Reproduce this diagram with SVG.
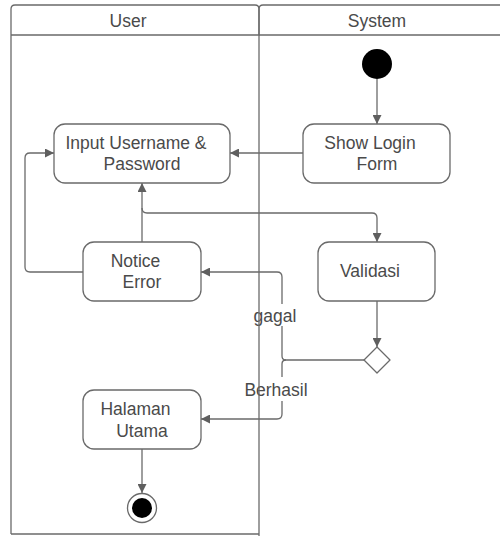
<svg xmlns="http://www.w3.org/2000/svg" width="500" height="536" viewBox="0 0 500 536">
  <defs>
    <marker id="arrow" viewBox="0 0 10 10" refX="10" refY="5" markerWidth="9" markerHeight="9" markerUnits="userSpaceOnUse" orient="auto">
      <path d="M0,0 L10,5 L0,10 Z" fill="#5f5f5f"/>
    </marker>
    <style>
      .lane { fill: none; stroke: #6a6a6a; stroke-width: 1.3; }
      .node { fill: #ffffff; stroke: #6a6a6a; stroke-width: 1.3; }
      .edge { fill: none; stroke: #6a6a6a; stroke-width: 1.3; marker-end: url(#arrow); }
      .line { fill: none; stroke: #6a6a6a; stroke-width: 1.3; }
      .lbl { font-family: "Liberation Sans", Arial, sans-serif; font-size: 17.5px; fill: #4a4a4a; text-anchor: middle; }
      .bg { fill: #ffffff; }
    </style>
  </defs>
  <rect width="500" height="536" fill="#ffffff"/>

  <!-- swimlane frame -->
  <g id="lanes">
    <path class="lane" d="M11,534 V9 Q11,5 15,5 H255 Q259,5 259,9 V35 H11"/>
    <path class="lane" d="M259,35 V9 Q259,5 263,5 H504 M259,35 H504"/>
    <text class="lbl" x="128" y="27">User</text>
    <text class="lbl" x="377" y="27">System</text>
    <path class="lane" d="M11,534 H259"/>
  </g>

  <!-- connectors -->
  <g id="connectors">
    <path class="edge" d="M377,79 V124"/>
    <path class="edge" d="M303,153 H230"/>
    <path class="edge" d="M142,242 V183"/>
    <path class="edge" d="M142,208 Q142,213 147,213 H372 Q377,213 377,218 V242"/>
    <path class="edge" d="M83,272 H30 Q25,272 25,267 V158 Q25,153 30,153 H54"/>
    <path class="edge" d="M377,301 V347"/>
    <path class="line" d="M364,360 H286 Q282,360 282,356 V277 Q282,272 277,272 H240"/>
    <path class="edge" d="M240,272 H201"/>
    <path class="line" d="M286,360 Q282,360 282,364 V414 Q282,419 277,419 H240"/>
    <path class="edge" d="M240,419 H201"/>
    <path class="edge" d="M142,449 V493"/>
    <rect class="bg" x="254" y="304" width="44" height="22"/>
    <text class="lbl" x="275" y="322">gagal</text>
    <rect class="bg" x="243" y="377" width="66" height="24"/>
    <text class="lbl" x="276" y="396">Berhasil</text>
  </g>

  <!-- lane divider drawn above the labels -->
  <path class="lane" d="M259,35 V536"/>

  <g id="start">
    <circle cx="377" cy="64" r="15" fill="#000000"/>
  </g>

  <g id="input-credentials">
    <rect class="node" x="54" y="124" width="176" height="59" rx="11"/>
    <text class="lbl" x="136" y="149">Input Username &amp;</text>
    <text class="lbl" x="142" y="170">Password</text>
  </g>

  <g id="show-login-form">
    <rect class="node" x="303" y="124" width="147" height="59" rx="11"/>
    <text class="lbl" x="370" y="149">Show Login</text>
    <text class="lbl" x="377" y="170">Form</text>
  </g>

  <g id="notice-error">
    <rect class="node" x="83" y="242" width="118" height="59" rx="11"/>
    <text class="lbl" x="135.5" y="267">Notice</text>
    <text class="lbl" x="142" y="288">Error</text>
  </g>

  <g id="validasi">
    <rect class="node" x="318" y="242" width="117" height="59" rx="11"/>
    <text class="lbl" x="370" y="277">Validasi</text>
  </g>

  <g id="decision">
    <path class="node" d="M377,347 L390,360 L377,373 L364,360 Z" stroke-linejoin="round"/>
  </g>

  <g id="halaman-utama">
    <rect class="node" x="83" y="390" width="118" height="59" rx="11"/>
    <text class="lbl" x="135.5" y="415">Halaman</text>
    <text class="lbl" x="142" y="437">Utama</text>
  </g>

  <g id="end">
    <circle cx="142" cy="508" r="14.5" fill="#ffffff" stroke="#6a6a6a" stroke-width="1.3"/>
    <circle cx="142" cy="508" r="10" fill="#000000"/>
  </g>
</svg>
